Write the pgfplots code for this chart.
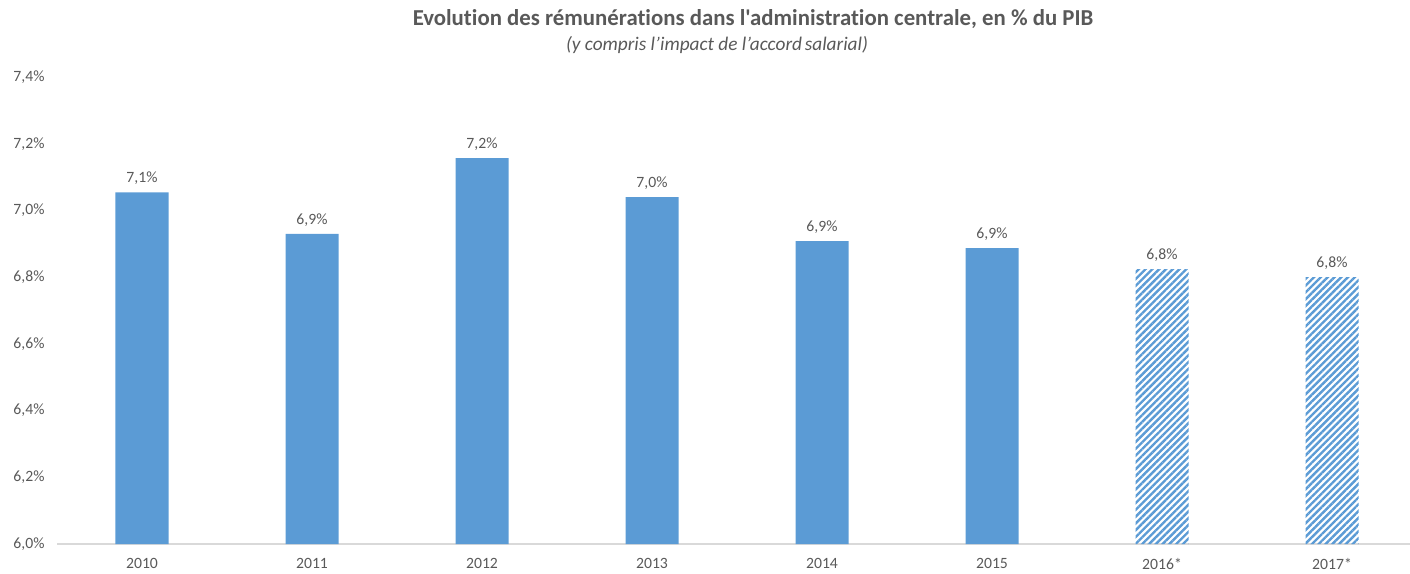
\documentclass[border=0pt]{standalone}
\usepackage{pgfplots}
\pgfplotsset{compat=1.18}
\usepackage{fontspec}
\setmainfont{Carlito}[Ligatures={TeX,NoCommon}]
\newfontfamily\titlefont{Carlito}[Ligatures={TeXOff,NoCommon}]
\usetikzlibrary{patterns.meta}
\definecolor{barblue}{HTML}{5B9BD5}
\definecolor{txtgrey}{HTML}{595959}
\definecolor{axgrey}{HTML}{D9D9D9}
\begin{document}
\begin{tikzpicture}
\useasboundingbox (-57pt,-29pt) rectangle (1353pt,544pt);
\begin{axis}[
  at={(0,0)}, anchor=south west, scale only axis,
  width=1353pt, height=467pt,
  xmin=-0.5, xmax=7.459, ymin=6.0, ymax=7.4,
  axis x line*=bottom, axis y line*=left,
  x axis line style={draw=axgrey, line width=1.2pt, -},
  y axis line style={draw=none},
  major tick length=0pt,
  xtick={0,1,2,3,4,5,6,7},
  xticklabels={2010,2011,2012,2013,2014,2015,2016*,2017*},
  ytick={6.0,6.2,6.4,6.6,6.8,7.0,7.2,7.4},
  yticklabel={\pgfmathprintnumber[fixed,fixed zerofill,precision=1,use comma]{\tick}\%},
  /pgf/number format/assume math mode=true,
  ticklabel style={font=\fontsize{15.7}{18}\selectfont, text=txtgrey},
  xticklabel style={yshift=-11pt},
  yticklabel style={xshift=-9pt},
  ybar, bar width=53pt, bar shift=0pt,
  nodes near coords={\pgfmathprintnumber[fixed,fixed zerofill,precision=1,use comma]{\pgfplotspointmeta}\%},
  every node near coord/.append style={font=\fontsize{15.7}{18}\selectfont, text=txtgrey, yshift=4pt},
  clip=false,
]
\addplot[fill=barblue, draw=none] coordinates {
  (0,7.054) (1,6.930) (2,7.157) (3,7.040) (4,6.908) (5,6.887)
};
\addplot[draw=none, pattern={Lines[angle=45,distance=4.8pt,line width=2.4pt]}, pattern color=barblue] coordinates {
  (6,6.824) (7,6.800)
};
\end{axis}
\node[text=txtgrey, font=\titlefont\fontsize{22.8}{26}\selectfont\bfseries] at (696pt,525pt) {Evolution des rémunérations dans l'administration centrale, en \% du PIB};
\node[text=txtgrey, font=\fontsize{19.3}{22}\selectfont\itshape] at (660pt,499pt) {(y compris l’impact de l’accord\kern-1.5pt\ salarial)};
\end{tikzpicture}
\end{document}
